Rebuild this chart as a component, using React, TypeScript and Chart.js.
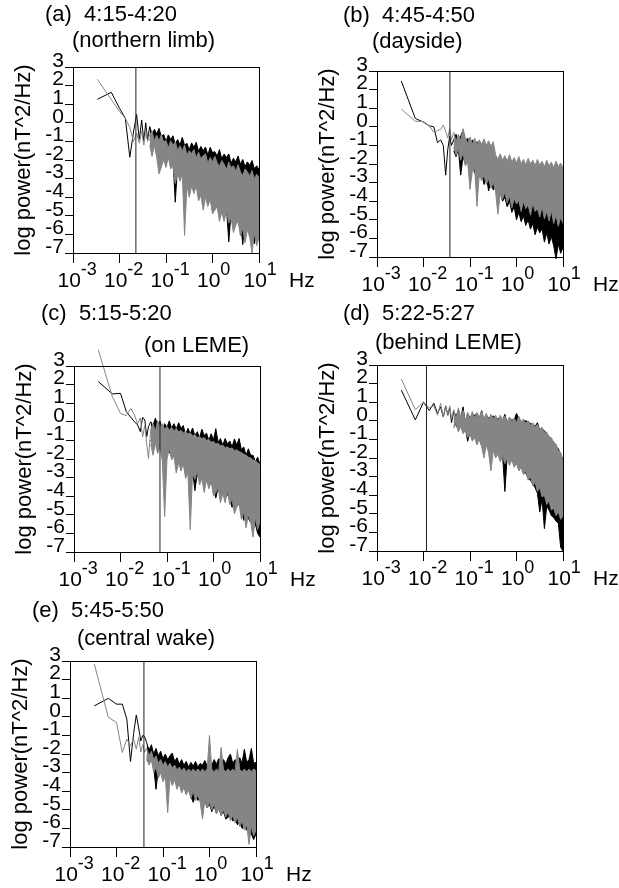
import React, { useEffect, useRef } from 'react';
import { Chart, registerables } from 'chart.js';

Chart.register(...registerables);

const FONT = '"Liberation Sans", Arial, Helvetica, sans-serif';
const BLACK = '#000000';
const GRAY = '#858585';

// shared axis content
const lowFreq = [0.00333, 0.00667, 0.01, 0.01333, 0.01667, 0.02, 0.02333, 0.02667, 0.03, 0.03333, 0.03667, 0.04];
const bandFreq = [0.0447,0.0501,0.0562,0.0631,0.0708,0.0794,0.0891,0.1,0.112,0.126,0.141,0.158,0.178,0.2,0.224,0.251,0.282,0.316,0.355,0.398,0.447,0.501,0.562,0.631,0.708,0.794,0.891,1,1.12,1.26,1.41,1.58,1.78,2,2.24,2.51,2.82,3.16,3.55,3.98,4.47,5.01,5.62,6.31,7.08,7.94,8.91,10];
const xTickValues = [0.001, 0.01, 0.1, 1, 10];
const xTickExponents = ['-3', '-2', '-1', '0', '1'];
const yTickValues = [3, 2, 1, 0, -1, -2, -3, -4, -5, -6, -7];
const xUnit = 'Hz';
const yTitle = 'log power(nT^2/Hz)';

// ---------- panel (a) ----------
const aTitle = '(a)  4:15-4:20';
const aSub = '(northern limb)';
const aMarker = 0.0225;
const aBlackLow = [1.26, 1.64, 0.78, 0.25, -1.85, -0.5, 0.45, -0.9, 0.15, -1.0, 0.0, -0.9];
const aGrayLow = [2.34, 1.25, 0.61, 0.25, -0.25, -1.0, -0.55, -1.1, -0.45, -1.2, -0.4, -1.0];
const aBlackTop = [-0.20,-0.60,-0.35,-0.60,-0.30,-0.75,-0.62,-1.00,-0.65,-0.90,-0.70,-1.15,-0.90,-1.20,-0.78,-1.21,-1.10,-1.45,-1.08,-1.31,-1.05,-1.53,-1.27,-1.51,-1.30,-1.73,-1.32,-1.60,-1.55,-1.79,-1.44,-1.93,-1.68,-1.87,-1.67,-2.16,-1.91,-2.10,-1.79,-2.23,-1.97,-2.36,-2.10,-2.29,-2.03,-2.47,-2.31,-2.50];
const aBlackBot = [-0.90,-1.10,-0.95,-1.30,-1.20,-1.50,-1.45,-1.70,-1.60,-1.95,-1.90,-4.27,-2.30,-2.45,-2.40,-2.85,-2.70,-3.00,-2.95,-3.20,-3.10,-3.40,-3.30,-3.60,-3.50,-3.80,-3.70,-4.00,-3.90,-4.20,-4.10,-4.40,-4.30,-4.60,-6.40,-4.80,-4.70,-5.00,-4.90,-5.20,-6.55,-5.30,-5.40,-5.30,-5.60,-6.50,-5.70,-5.80];
const aGrayTop = [-0.65,-0.46,-0.96,-0.67,-0.98,-0.64,-1.04,-0.95,-1.35,-0.96,-1.21,-1.02,-1.47,-1.23,-1.53,-1.19,-1.74,-1.50,-1.65,-1.44,-1.89,-1.58,-1.93,-1.77,-1.67,-2.16,-1.86,-2.10,-1.80,-2.14,-2.34,-2.03,-2.23,-2.52,-2.12,-2.41,-2.31,-2.60,-2.25,-2.64,-2.84,-2.48,-2.63,-2.87,-2.57,-3.01,-2.76,-2.95];
const aGrayBot = [-1.20,-1.81,-1.23,-1.84,-2.75,-2.37,-1.99,-2.40,-1.84,-2.48,-2.32,-3.26,-2.70,-3.14,-2.78,-6.05,-3.36,-4.00,-3.40,-3.80,-3.40,-4.20,-3.90,-4.70,-4.00,-4.50,-4.10,-4.90,-4.70,-4.50,-5.30,-4.80,-5.30,-4.70,-5.40,-5.10,-5.90,-5.50,-5.29,-6.08,-5.67,-6.46,-5.75,-6.14,-7.00,-5.92,-6.61,-6.20];

// ---------- panel (b) ----------
const bTitle = '(b)  4:45-4:50';
const bSub = '(dayside)';
const bMarker = 0.037;
const bBlackLow = [2.46, 0.45, 0.25, 0.05, 0.0, -0.85, -0.7, -1.0, -2.6, -1.2, -0.5, -1.0];
const bGrayLow = [0.95, 0.3, 0.28, 0.05, -0.3, -0.2, -0.15, 0.1, -0.25, -0.6, -0.1, -0.7];
const bBlackTop = [-0.70,-0.40,-0.90,-0.50,-0.20,-0.80,-0.60,-1.00,-0.70,-1.10,-0.80,-1.20,-0.90,-1.30,-1.00,-1.40,-1.50,-1.70,-1.80,-2.00,-1.90,-2.10,-2.00,-2.20,-2.10,-2.30,-2.20,-2.40,-2.30,-2.50,-2.40,-2.60,-2.50,-2.70,-2.60,-2.80,-2.70,-2.90,-2.80,-3.00,-2.90,-3.10,-3.00,-3.20,-3.10,-3.30,-3.20,-3.30];
const bBlackBot = [-1.30,-1.60,-1.20,-2.60,-1.60,-2.00,-1.80,-2.20,-2.00,-2.50,-2.20,-2.70,-2.40,-3.10,-2.60,-3.45,-2.90,-3.40,-3.20,-3.70,-3.50,-4.00,-3.80,-4.30,-4.00,-4.60,-4.30,-5.00,-4.60,-5.10,-4.80,-5.30,-5.00,-5.50,-5.20,-5.80,-5.40,-5.70,-5.50,-6.20,-5.70,-6.30,-5.90,-6.40,-7.10,-6.30,-6.80,-6.50];
const bGrayTop = [-0.30,-0.80,-0.40,-0.75,-0.10,-0.60,-0.90,-0.55,-0.95,-0.60,-1.00,-0.70,-0.95,-0.65,-1.00,-0.75,-1.05,-0.80,-1.50,-1.75,-1.45,-1.80,-1.55,-1.85,-1.50,-1.90,-1.65,-1.95,-1.60,-2.00,-1.75,-2.05,-1.70,-2.00,-1.80,-2.10,-1.75,-2.05,-1.85,-2.15,-1.80,-2.10,-1.90,-2.20,-1.85,-2.15,-1.95,-2.20];
const bGrayBot = [-1.10,-1.50,-1.20,-1.80,-1.40,-2.10,-1.90,-3.37,-2.40,-2.20,-4.27,-2.60,-2.90,-2.60,-3.10,-2.80,-3.30,-3.00,-3.50,-4.70,-3.60,-3.90,-3.50,-4.10,-3.70,-4.35,-3.85,-4.15,-3.95,-4.55,-4.00,-4.40,-4.20,-4.75,-4.10,-4.55,-4.40,-4.85,-4.30,-4.95,-4.55,-5.05,-4.50,-5.20,-4.75,-5.35,-4.85,-5.20];

// ---------- panel (c) ----------
const cTitle = '(c)  5:15-5:20';
const cSub = '(on LEME)';
const cMarker = 0.0706;
const cBlackLow = [2.16, 1.5, 1.53, 0.55, 0.24, 0.0, -0.17, -0.53, 0.24, 0.1, -0.8, -0.25];
const cGrayLow = [3.87, 1.35, 0.45, 0.33, 0.72, 0.36, -0.1, 0.2, -0.8, -0.2, -1.2, -1.97];
const cBlackTop = [0.00,-0.20,0.20,-0.20,0.05,-0.45,-0.10,-0.30,0.05,-0.35,-0.10,-0.40,-0.05,-0.35,-0.20,-0.70,-0.35,-0.65,-0.33,-0.75,-0.53,-0.86,-0.40,-0.73,-0.61,-1.00,-0.64,-0.98,-0.37,-1.11,-0.90,-1.25,-0.90,-1.20,-1.03,-1.35,-0.92,-1.25,-0.90,-1.50,-1.35,-1.80,-1.45,-1.80,-1.80,-2.15,-1.90,-2.30];
const cBlackBot = [-1.00,-1.30,-0.90,-1.40,-1.20,-1.60,-1.40,-1.70,-1.60,-1.90,-1.80,-2.10,-2.00,-2.45,-2.20,-2.50,-2.40,-2.70,-2.60,-3.70,-2.80,-3.10,-2.90,-3.20,-3.10,-3.40,-3.30,-3.50,-4.10,-3.50,-3.80,-3.70,-4.00,-3.90,-4.20,-4.60,-4.30,-4.50,-4.40,-4.80,-5.30,-5.00,-5.20,-5.40,-5.60,-5.50,-6.00,-6.20];
const cGrayTop = [-0.40,-0.10,-0.50,0.05,-0.30,-0.10,-0.40,-0.25,-0.45,-0.30,-0.50,-0.35,-0.55,-0.45,-0.60,-0.50,-0.65,-0.60,-0.75,-0.70,-0.85,-0.80,-0.90,-0.85,-1.00,-0.95,-1.10,-1.05,-1.20,-1.15,-1.30,-1.25,-1.40,-1.35,-1.45,-1.40,-1.55,-1.50,-1.60,-1.65,-1.75,-1.80,-1.90,-1.95,-2.05,-2.10,-2.20,-2.30];
const cGrayBot = [-1.20,-1.80,-1.15,-1.70,-1.35,-2.10,-5.10,-2.00,-1.45,-2.05,-1.85,-2.75,-2.20,-2.65,-2.25,-3.05,-2.75,-5.80,-2.70,-3.10,-2.65,-3.40,-3.05,-3.80,-3.10,-3.60,-3.20,-4.00,-3.80,-3.55,-4.35,-3.85,-4.35,-3.70,-4.45,-4.15,-4.95,-4.60,-4.40,-5.25,-4.85,-5.70,-5.00,-5.40,-6.20,-5.15,-5.80,-5.35];

// ---------- panel (d) ----------
const dTitle = '(d)  5:22-5:27';
const dSub = '(behind LEME)';
const dMarker = 0.0116;
const dBlackLow = [1.65, 0.05, 1.0, 0.55, 0.95, 0.4, 0.75, 0.2, 0.8, 0.3, 0.7, -0.1];
const dGrayLow = [2.25, 0.6, 1.0, 0.7, 0.8, 0.3, 0.95, 0.2, 0.75, 0.35, 0.8, 0.1];
const dBlackTop = [0.50,0.25,0.55,0.10,0.75,-0.10,0.40,0.15,0.35,0.30,0.40,0.05,0.55,0.00,0.30,0.15,0.20,0.25,0.20,0.10,0.20,0.00,0.35,-0.15,0.10,0.05,0.05,0.40,0.10,-0.10,0.00,0.00,-0.05,-0.15,-0.20,-0.30,-0.10,-0.50,-0.40,-0.55,-0.70,-0.85,-1.00,-1.15,-1.35,-1.50,-1.80,-2.10];
const dBlackBot = [-0.30,-0.20,-0.50,-0.20,-0.60,-0.40,-1.10,-0.60,-1.00,-0.80,-1.10,-0.90,-1.20,-1.20,-1.20,-1.40,-1.60,-1.50,-1.80,-1.60,-2.00,-1.80,-3.80,-1.90,-2.20,-2.00,-2.40,-2.10,-2.60,-2.40,-2.80,-2.80,-3.10,-3.20,-3.40,-3.60,-3.90,-4.90,-4.20,-5.80,-4.60,-4.80,-5.10,-5.20,-5.40,-5.50,-6.80,-7.00];
const dGrayTop = [0.60,0.10,0.70,0.20,0.55,0.00,0.45,0.10,0.50,0.15,0.45,0.20,0.50,0.10,0.40,0.05,0.35,0.10,0.30,0.00,0.30,0.05,0.25,-0.05,0.20,0.00,0.15,-0.10,0.25,-0.05,0.10,-0.15,0.00,-0.25,-0.10,-0.35,-0.20,-0.45,-0.35,-0.65,-0.60,-0.90,-0.90,-1.20,-1.25,-1.60,-1.70,-2.20];
const dGrayBot = [-0.40,-0.10,-0.60,-0.30,-0.70,-0.50,-0.90,-0.70,-1.10,-0.90,-1.30,-1.00,-1.40,-2.00,-1.30,-1.70,-2.70,-1.60,-2.00,-1.80,-2.20,-1.90,-2.30,-2.00,-2.40,-2.10,-2.50,-2.30,-2.70,-2.50,-2.90,-2.70,-3.20,-3.00,-3.50,-3.30,-3.80,-3.60,-4.10,-4.00,-4.50,-4.30,-4.80,-4.70,-5.10,-4.90,-5.30,-5.10];

// ---------- panel (e) ----------
const eTitle = '(e)  5:45-5:50';
const eSub = '(central wake)';
const eMarker = 0.0389;
const eBlackLow = [0.59, 0.99, 0.68, 0.68, -0.12, -2.4, -0.9, 0.1, -0.6, -1.3, -1.0, -1.05];
const eGrayLow = [2.84, -0.03, -0.3, -1.92, -1.2, -1.56, -1.2, -1.74, -1.1, -1.9, -1.5, -1.9];
const eBlackTop = [-1.40,-1.80,-1.50,-2.00,-1.70,-2.10,-1.85,-2.25,-2.00,-2.30,-2.10,-1.95,-2.40,-2.20,-2.55,-2.30,-2.60,-2.40,-2.70,-2.45,-2.65,-2.40,-2.70,-2.50,-2.60,-2.35,-2.65,-2.45,-2.60,-2.30,-2.55,-2.25,-2.50,-2.30,-2.55,-2.20,-2.00,-2.50,-2.30,-2.55,-2.20,-2.50,-1.75,-2.45,-2.30,-1.70,-2.50,-2.45];
const eBlackBot = [-2.30,-2.50,-2.10,-2.70,-3.90,-2.80,-2.60,-3.10,-2.90,-3.30,-3.10,-3.50,-3.30,-3.70,-3.50,-3.90,-3.70,-4.10,-3.90,-4.30,-4.60,-4.20,-4.50,-4.30,-4.70,-4.50,-4.90,-4.70,-5.10,-4.80,-5.20,-4.90,-5.30,-5.10,-5.50,-5.40,-5.30,-5.60,-5.50,-5.80,-5.70,-6.00,-5.90,-6.10,-6.00,-6.30,-6.60,-6.30];
const eGrayTop = [-1.70,-2.10,-1.85,-2.30,-2.10,-2.50,-2.30,-2.60,-2.40,-2.70,-2.50,-2.75,-2.60,-2.85,-2.70,-2.90,-2.75,-2.95,-2.80,-2.95,-2.80,-2.95,-2.80,-2.95,-2.80,-2.95,-2.80,-1.00,-2.85,-2.95,-2.80,-2.95,-1.65,-2.85,-2.95,-2.80,-2.95,-2.80,-2.95,-1.75,-2.85,-2.95,-2.80,-2.95,-2.80,-2.95,-2.80,-2.90];
const eGrayBot = [-2.10,-2.60,-2.30,-3.00,-2.70,-3.30,-3.00,-3.50,-3.20,-5.15,-3.30,-3.70,-3.40,-3.90,-3.60,-4.10,-3.80,-4.20,-3.90,-4.40,-4.00,-4.50,-4.20,-4.60,-5.50,-4.50,-4.90,-4.60,-5.00,-4.70,-5.20,-4.90,-5.30,-5.00,-5.40,-5.10,-5.60,-5.30,-5.70,-5.40,-5.90,-5.60,-6.10,-5.80,-6.86,-5.90,-6.40,-6.10];

// ---------- layout ----------
const PLOT = 186;
const AXIS_W = 62;
const PAD_TOP = 66;
const PAD_RIGHT = 60;
const AXIS_H = 46;
const CANVAS_W = AXIS_W + PLOT + PAD_RIGHT;
const CANVAS_H = PAD_TOP + PLOT + AXIS_H;

interface PanelSpec {
  title: string; sub: string; marker: number;
  blackLow: number[]; grayLow: number[];
  blackTop: number[]; blackBot: number[]; grayTop: number[]; grayBot: number[];
  plotLeft: number; plotTop: number;
  titleX: number; titleY: number; subX: number; subY: number;
}

const panels: PanelSpec[] = [
  { title: aTitle, sub: aSub, marker: aMarker, blackLow: aBlackLow, grayLow: aGrayLow, blackTop: aBlackTop, blackBot: aBlackBot, grayTop: aGrayTop, grayBot: aGrayBot,
    plotLeft: 73, plotTop: 67, titleX: 45, titleY: 21, subX: 72, subY: 47 },
  { title: bTitle, sub: bSub, marker: bMarker, blackLow: bBlackLow, grayLow: bGrayLow, blackTop: bBlackTop, blackBot: bBlackBot, grayTop: bGrayTop, grayBot: bGrayBot,
    plotLeft: 377, plotTop: 71, titleX: 343, titleY: 22, subX: 372, subY: 48 },
  { title: cTitle, sub: cSub, marker: cMarker, blackLow: cBlackLow, grayLow: cGrayLow, blackTop: cBlackTop, blackBot: cBlackBot, grayTop: cGrayTop, grayBot: cGrayBot,
    plotLeft: 74, plotTop: 366, titleX: 41, titleY: 320, subX: 144, subY: 352 },
  { title: dTitle, sub: dSub, marker: dMarker, blackLow: dBlackLow, grayLow: dGrayLow, blackTop: dBlackTop, blackBot: dBlackBot, grayTop: dGrayTop, grayBot: dGrayBot,
    plotLeft: 377, plotTop: 365, titleX: 343, titleY: 320, subX: 375, subY: 349 },
  { title: eTitle, sub: eSub, marker: eMarker, blackLow: eBlackLow, grayLow: eGrayLow, blackTop: eBlackTop, blackBot: eBlackBot, grayTop: eGrayTop, grayBot: eGrayBot,
    plotLeft: 70, plotTop: 661, titleX: 32, titleY: 617, subX: 77, subY: 645 },
];

function Panel({ p }: { p: PanelSpec }) {
  const ref = useRef<HTMLCanvasElement>(null);
  const cLeft = p.plotLeft - AXIS_W;
  const cTop = p.plotTop - PAD_TOP;

  useEffect(() => {
    const lowPts = (vals: number[]) => lowFreq.map((f, i) => ({ x: f, y: vals[i] }));
    const bandPts = (vals: number[]) => bandFreq.map((f, i) => ({ x: f, y: vals[i] }));

    const textPlugin = {
      id: 'panelText',
      afterDraw(chart: any) {
        const { ctx, chartArea: ca } = chart;
        const xs = chart.scales.x;
        ctx.save();
        ctx.strokeStyle = BLACK;
        ctx.lineWidth = 1;
        ctx.beginPath();
        ctx.moveTo(ca.left, Math.round(ca.top) + 0.5);
        ctx.lineTo(ca.right + 1, Math.round(ca.top) + 0.5);
        ctx.moveTo(Math.round(ca.right) + 0.5, ca.top);
        ctx.lineTo(Math.round(ca.right) + 0.5, ca.bottom + 1);
        ctx.stroke();

        ctx.fillStyle = BLACK;
        ctx.textAlign = 'left';
        ctx.textBaseline = 'alphabetic';
        ctx.font = `22px ${FONT}`;
        ctx.fillText(p.title, p.titleX - cLeft, p.titleY - cTop);
        ctx.fillText(p.sub, p.subX - cLeft, p.subY - cTop);

        xTickValues.forEach((v, i) => {
          const px = xs.getPixelForValue(v);
          const bx = px - 15.5;
          ctx.font = `21px ${FONT}`;
          ctx.fillText('10', bx, ca.bottom + 34);
          const w = ctx.measureText('10').width;
          ctx.font = `18px ${FONT}`;
          ctx.fillText(xTickExponents[i], bx + w, ca.bottom + 22);
        });
        ctx.font = `21px ${FONT}`;
        ctx.fillText(xUnit, ca.right + 30, ca.bottom + 34);
        ctx.restore();
      },
    };

    const lineBase = { pointRadius: 0, borderWidth: 1, tension: 0, clip: false as const };
    const chart = new Chart(ref.current as HTMLCanvasElement, {
      type: 'line',
      data: {
        datasets: [
          { ...lineBase, label: 'marker', data: [{ x: p.marker, y: -7 }, { x: p.marker, y: 3 }], borderColor: '#222222', fill: false },
          { ...lineBase, label: 'gray', data: [...lowPts(p.grayLow), ...bandPts(p.grayTop)], borderColor: GRAY, backgroundColor: GRAY, fill: '+1' },
          { ...lineBase, label: 'gray lower', data: bandPts(p.grayBot), borderColor: GRAY, backgroundColor: GRAY, fill: false },
          { ...lineBase, label: 'black', data: [...lowPts(p.blackLow), ...bandPts(p.blackTop)], borderColor: BLACK, backgroundColor: BLACK, fill: '+1' },
          { ...lineBase, label: 'black lower', data: bandPts(p.blackBot), borderColor: BLACK, backgroundColor: BLACK, fill: false },
        ],
      } as any,
      options: {
        animation: false,
        responsive: false,
        events: [],
        layout: { padding: { left: 0, top: PAD_TOP, right: PAD_RIGHT, bottom: 0 } },
        plugins: { legend: { display: false }, tooltip: { enabled: false }, title: { display: false } },
        scales: {
          x: {
            type: 'logarithmic',
            min: 0.001,
            max: 10,
            position: 'bottom',
            afterBuildTicks: (s: any) => { s.ticks = xTickValues.map((v) => ({ value: v })); },
            afterFit: (s: any) => { s.height = AXIS_H; },
            ticks: { display: false },
            grid: { drawOnChartArea: false, drawTicks: true, tickLength: 10, color: BLACK, lineWidth: 1 },
            border: { display: true, color: BLACK, width: 1 },
          },
          y: {
            type: 'linear',
            min: -7,
            max: 3,
            position: 'left',
            afterBuildTicks: (s: any) => { s.ticks = yTickValues.map((v) => ({ value: v })); },
            afterFit: (s: any) => { s.width = AXIS_W; },
            ticks: {
              autoSkip: false,
              color: BLACK,
              padding: 1,
              labelOffset: -6,
              font: { family: FONT, size: 21 },
              callback: (v: any) => String(v),
            },
            grid: { drawOnChartArea: false, drawTicks: true, tickLength: 8, color: BLACK, lineWidth: 1 },
            border: { display: true, color: BLACK, width: 1 },
            title: { display: true, text: yTitle, color: BLACK, padding: 0, font: { family: FONT, size: 22 } },
          },
        },
      } as any,
      plugins: [textPlugin],
    });
    return () => chart.destroy();
  }, []);

  return (
    <canvas
      ref={ref}
      width={CANVAS_W}
      height={CANVAS_H}
      style={{ position: 'absolute', left: cLeft, top: cTop, width: CANVAS_W, height: CANVAS_H }}
    />
  );
}

export default function App() {
  return (
    <div style={{ position: 'absolute', left: 0, top: 0, width: 619, height: 888, background: '#ffffff' }}>
      {panels.map((p, i) => (
        <Panel key={i} p={p} />
      ))}
    </div>
  );
}
